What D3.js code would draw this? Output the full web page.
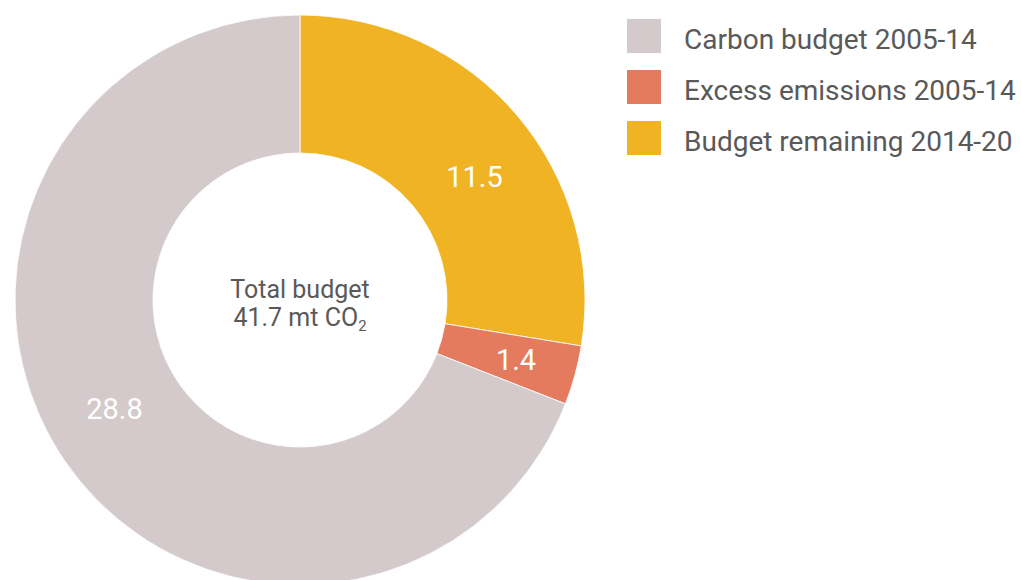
<!DOCTYPE html>
<html><head><meta charset="utf-8">
<script src="https://cdn.jsdelivr.net/npm/d3@7"></script>
<style>
html,body{margin:0;padding:0;background:#fff;}
svg{display:block;}
text{font-family:Roboto,"Noto Sans",sans-serif;}
</style></head>
<body>
<svg id="chart" width="1021" height="580"></svg>
<script>
const categories = ["Budget remaining 2014-20", "Excess emissions 2005-14", "Carbon budget 2005-14"];
const values = [11.5, 1.4, 28.8];
const colors = ["#f0b323", "#e47b5e", "#d4cacb"];
const legendOrder = ["Carbon budget 2005-14", "Excess emissions 2005-14", "Budget remaining 2014-20"];
const centerLines = ["Total budget", "41.7 mt CO"];

const svg = d3.select("#chart");
const cx = 300, cy = 300, rOuter = 285, rInner = 147;
const color = d3.scaleOrdinal().domain(categories).range(colors);
const data = categories.map((c, i) => ({cat: c, value: values[i]}));
const pie = d3.pie().value(d => d.value).sort(null);
const arcs = pie(data);
const arc = d3.arc().innerRadius(rInner).outerRadius(rOuter);

// label placement: slight angular nudge (degrees) per slice
const labelNudge = [5, 0, 4];
const labelR = [214, 224, 215];
function labelPos(d, i) {
  const a = (d.startAngle + d.endAngle) / 2 + labelNudge[i] * Math.PI / 180;
  return [Math.sin(a) * labelR[i], -Math.cos(a) * labelR[i]];
}

const g = svg.append("g").attr("transform", `translate(${cx},${cy})`);
g.selectAll("path").data(arcs).join("path")
  .attr("d", arc)
  .attr("fill", d => color(d.data.cat))
  .attr("stroke", "#fff").attr("stroke-width", 0.8);

g.selectAll("text.lbl").data(arcs).join("text").attr("class", "lbl")
  .attr("transform", (d, i) => `translate(${labelPos(d, i)})`)
  .attr("text-anchor", "middle").attr("dy", "0.36em")
  .attr("fill", "#fff").attr("font-size", 29)
  .text(d => d.data.value.toFixed(1));

const ct = g.append("text").attr("text-anchor", "middle").attr("fill", "#595959").attr("font-size", 25);
ct.append("tspan").attr("x", 0).attr("y", -2).text(centerLines[0]);
ct.append("tspan").attr("x", 0).attr("y", 26).text(centerLines[1]);
ct.append("tspan").attr("font-size", 15).attr("dy", 5).text("2");

const leg = svg.append("g").attr("transform", "translate(627,19)");
const rows = leg.selectAll("g").data(legendOrder).join("g")
  .attr("transform", (d, i) => `translate(0,${i * 51})`);
rows.append("rect").attr("width", 34).attr("height", 34).attr("fill", d => color(d));
rows.append("text").attr("x", 57).attr("y", 30)
  .attr("fill", "#595959").attr("font-size", 28).text(d => d);
</script>
</body></html>
